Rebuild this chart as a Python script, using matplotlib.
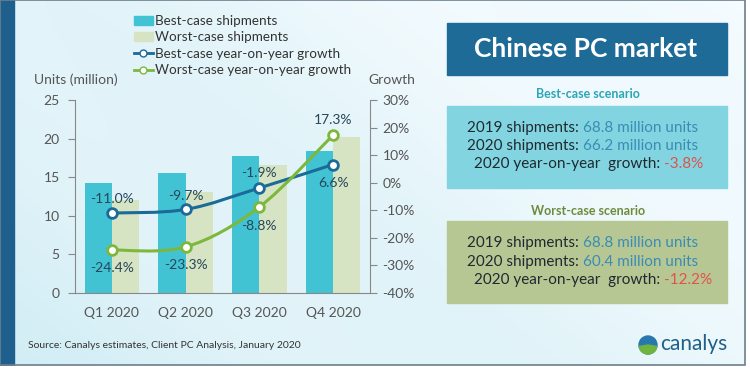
import numpy as np
import matplotlib
matplotlib.use("Agg")
import matplotlib.pyplot as plt
from matplotlib.patches import Rectangle, Circle, Wedge, PathPatch, Patch
from matplotlib.lines import Line2D
from matplotlib.path import Path

plt.rcParams["font.family"] = ["Lato", "DejaVu Sans"]

# data
quarters = ["Q1 2020", "Q2 2020", "Q3 2020", "Q4 2020"]
best_shipments = [14.2, 15.5, 17.7, 18.4]
worst_shipments = [12.0, 13.1, 16.6, 20.2]
best_growth = [-11.0, -9.7, -1.9, 6.6]
worst_growth = [-24.4, -23.3, -8.8, 17.3]
series_names = ["Best-case shipments", "Worst-case shipments",
                "Best-case year-on-year growth", "Worst-case year-on-year growth"]
best_summary = ["68.8 million units", "66.2 million units", "-3.8%"]
worst_summary = ["68.8 million units", "60.4 million units", "-12.2%"]
summary_labels = ["2019 shipments: ", "2020 shipments: ", "2020 year-on-year  growth: "]

C_BEST_BAR = "#42c3d3"
C_WORST_BAR = "#d7e4c3"
C_BEST_LINE = "#1b6a98"
C_WORST_LINE = "#7db83c"
C_TICK = "#555555"

W, H = 750, 375
fig = plt.figure(figsize=(7.5, 3.75), dpi=100)


def fx(x):
    return x / W


def fy(y):
    return 1 - y / H


# background slide with soft gradient
bg = fig.add_axes([0, 0, 1, 1], zorder=-10)
bg.set_xlim(0, W)
bg.set_ylim(H, 0)
bg.axis("off")
gx, gy = np.meshgrid(np.linspace(0, 1, 300), np.linspace(0, 1, 150))
t = np.clip(0.55 * (1 - gx) + 0.35 * gy + 0.08 * np.sin(gx * 9 - gy * 5), 0, 1)
top = np.array([0.97, 0.99, 1.0])
low = np.array([0.82, 0.93, 0.96])
img = top[None, None, :] * (1 - t[..., None]) + low[None, None, :] * t[..., None]
bg.imshow(img, extent=[0, 745, 365, 0], aspect="auto", zorder=0)
bg.add_patch(Rectangle((0, 0), 14, 365, color="#1f5f8d", zorder=1))
bg.add_patch(Rectangle((0, 0), 745, 365, fill=False, ec="#6b7f8c", lw=1.2, zorder=2))
bg.add_patch(Rectangle((745, 0), 5, H, color="white", zorder=1))
bg.add_patch(Rectangle((0, 365.5), W, 10, color="white", zorder=1))

# right info panel
bg.add_patch(Rectangle((447, 23), 280, 52, color="#1f6b97", zorder=3))
bg.text(586, 49, "Chinese PC market", color="white", fontsize=19, fontweight="bold",
        ha="center", va="center", zorder=4)
bg.text(588, 94, "Best-case scenario", color="#2aa6b6", fontsize=9, fontweight="bold",
        ha="center", va="center", zorder=4)
bg.add_patch(Rectangle((447, 106), 280, 82, color="#82d5e0", zorder=3))
bg.text(588, 211, "Worst-case scenario", color="#6e8b3c", fontsize=9, fontweight="bold",
        ha="center", va="center", zorder=4)
bg.add_patch(Rectangle((447, 221), 280, 82, color="#b7c794", zorder=3))

split_x = [583, 583, 664]
for values, ys in ((best_summary, [128, 146, 164]), (worst_summary, [243, 262, 280])):
    for i, (lab, val) in enumerate(zip(summary_labels, values)):
        bg.text(split_x[i], ys[i], lab.rstrip() + " ", color="#1e2a30", fontsize=11,
                ha="right", va="center", zorder=4)
        bg.text(split_x[i], ys[i], val, color="#e0524c" if i == 2 else "#3a8cb4",
                fontsize=11, ha="left", va="center", zorder=4)

# canalys logo
bg.add_patch(Circle((648, 345), 9, color="#2878ad", zorder=4))
bg.add_patch(Wedge((648, 345), 9, 10, 170, color="#6fb43f", zorder=5))
bg.text(660, 344, "canalys", color="#1f5f8a", fontsize=15, ha="left", va="center", zorder=4)

bg.text(28, 346, "Source: Canalys estimates, Client PC Analysis, January 2020",
        color="#333333", fontsize=7.5, ha="left", va="center", zorder=4)

# main chart
ax = fig.add_axes([fx(75), fy(293), fx(370) - fx(75), fy(100) - fy(293)])
ax.patch.set_visible(False)
x = np.arange(len(quarters))
w = 0.37
ax.bar(x - w / 2, best_shipments, w, color=C_BEST_BAR, zorder=2)
ax.bar(x + w / 2, worst_shipments, w, color=C_WORST_BAR, zorder=2)
ax.set_xlim(-0.5, 3.5)
ax.set_ylim(0, 25)
ax.set_yticks(range(0, 26, 5))
ax.set_xticks(x)
ax.set_xticklabels(quarters)
ax.tick_params(axis="x", length=0, pad=10, labelsize=10, labelcolor=C_TICK)
ax.tick_params(axis="y", length=5, color="#888888", labelsize=10, labelcolor=C_TICK, pad=6)
for s in ("top", "right"):
    ax.spines[s].set_visible(False)
for s in ("left", "bottom"):
    ax.spines[s].set_color("#888888")

ax2 = ax.twinx()
ax2.patch.set_visible(False)
ax2.set_ylim(-40, 30)
ax2.set_yticks(range(-40, 31, 10))
ax2.set_yticklabels([f"{v}%" for v in range(-40, 31, 10)])
ax2.tick_params(axis="y", length=5, color="#888888", labelsize=10, labelcolor=C_TICK, pad=4)
for s in ("top", "left", "bottom"):
    ax2.spines[s].set_visible(False)
ax2.spines["right"].set_color("#888888")


def smooth_path(xs, ys, k=1 / 6):
    pts = np.column_stack([xs, ys]).astype(float)
    verts = [pts[0]]
    codes = [Path.MOVETO]
    n = len(pts)
    for i in range(n - 1):
        p0 = pts[max(i - 1, 0)]
        p1 = pts[i]
        p2 = pts[i + 1]
        p3 = pts[min(i + 2, n - 1)]
        verts += [p1 + (p2 - p0) * k, p2 - (p3 - p1) * k, p2]
        codes += [Path.CURVE4] * 3
    return Path(verts, codes)


for vals, col in ((best_growth, C_BEST_LINE), (worst_growth, C_WORST_LINE)):
    ax2.add_patch(PathPatch(smooth_path(x, vals), fc="none", ec=col, lw=2.2, zorder=3))
    ax2.plot(x, vals, ls="none", marker="o", ms=7, mfc="white", mec=col, mew=2, zorder=4)

best_off = [10, 10, 11, -13]
worst_off = [-13, -13, -14, 11]
for vals, offs in ((best_growth, best_off), (worst_growth, worst_off)):
    for xi, v, o in zip(x, vals, offs):
        ax2.annotate(f"{v:.1f}%", (xi, v), xytext=(0, o), textcoords="offset points",
                     ha="center", va="center", fontsize=10, color="#26465a", zorder=5)

# axis titles and legend
fig.text(fx(76), fy(80), "Units (million)", color=C_TICK, fontsize=10, ha="center", va="center")
fig.text(fx(368), fy(80), "Growth", color=C_TICK, fontsize=10, ha="left", va="center")

handles = [
    Patch(color=C_BEST_BAR),
    Patch(color=C_WORST_BAR),
    Line2D([], [], color=C_BEST_LINE, lw=2, marker="o", ms=5, mfc="white", mec=C_BEST_LINE),
    Line2D([], [], color=C_WORST_LINE, lw=2, marker="o", ms=5, mfc="white", mec=C_WORST_LINE),
]
leg = fig.legend(handles, series_names, loc="upper left", bbox_to_anchor=(fx(134), fy(15)),
                 frameon=False, fontsize=9.7, handlelength=1.4, handleheight=0.7,
                 handletextpad=0.15, labelspacing=0.33, borderaxespad=0, borderpad=0)
for txt in leg.get_texts():
    txt.set_color("#333333")

fig.savefig("out.png", dpi=100)
